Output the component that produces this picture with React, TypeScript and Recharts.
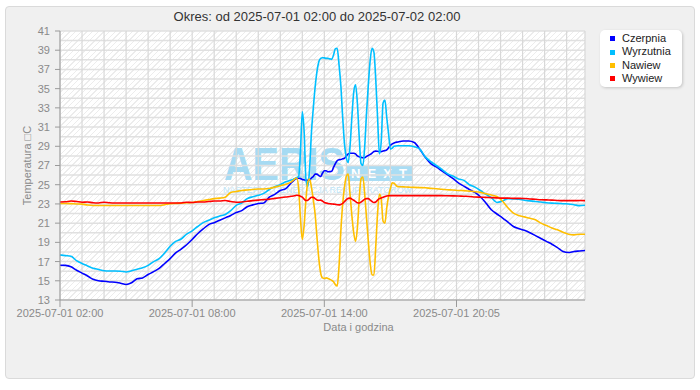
import React from 'react';
import { LineChart, Line, XAxis, YAxis, CartesianGrid, Legend } from 'recharts';

const title = 'Okres: od 2025-07-01 02:00 do 2025-07-02 02:00';
const xAxisTitle = 'Data i godzina';
const yAxisTitle = 'Temperatura \u25A1C';

// minutes since 2025-07-01 02:00
const minutes = [
  0, 15, 30, 45, 60, 75, 90, 105, 120, 135, 150, 165, 180, 195, 210, 225, 240, 255, 270, 285, 300, 315, 330, 345, 360, 375, 390, 405, 420, 435, 450, 465, 480, 495, 510, 525, 540, 555, 570, 585, 600, 615, 630,
  635, 640, 645, 650, 655, 660, 665, 670, 675, 680, 685, 690, 695, 700, 705, 710, 715, 720, 725, 730, 735, 740, 745, 750, 755, 760, 765, 770, 775, 780, 785, 790, 795, 800, 805, 810, 815, 820, 825, 830, 835, 840, 845, 850, 855, 860, 865, 870, 875, 880, 885, 890, 895, 900, 905, 910,
  920, 935, 950, 965, 980, 995, 1010, 1025, 1040, 1055, 1070, 1085, 1100, 1115, 1130, 1145, 1160, 1175, 1190, 1205, 1220, 1235, 1250, 1265, 1280, 1295, 1310, 1325, 1340, 1355, 1370, 1385, 1400, 1415, 1430,
];

const czerpnia = [
  16.62, 16.6, 16.45, 16.1, 15.8, 15.5, 15.15, 15.0, 14.95, 14.88, 14.85, 14.75, 14.62, 14.8, 15.2, 15.3, 15.65, 15.95, 16.3, 16.8, 17.3, 17.9, 18.3, 18.75, 19.3, 19.9, 20.4, 20.85, 21.05, 21.3, 21.55, 21.8, 22.1, 22.3, 22.7, 22.9, 23.05, 23.1, 23.7, 24.0, 24.4, 24.6, 25.2,
  25.38, 25.55, 25.66, 25.68, 25.65, 25.55, 25.5, 25.45, 25.47, 25.5, 25.7, 25.85, 26.1, 26.1, 25.95, 25.85, 26.2, 26.45, 26.45, 26.35, 26.36, 26.4, 26.8, 27.2, 27.5, 27.6, 27.62, 27.7, 27.75, 28.0, 28.2, 28.27, 28.28, 28.27, 28.2, 28.0, 27.9, 27.85, 27.8, 27.8, 27.95, 28.05, 28.15, 28.3, 28.45, 28.5, 28.48, 28.45, 28.44, 28.5, 28.55, 28.62, 28.85, 29.1, 29.25, 29.35,
  29.45, 29.55, 29.55, 29.4, 28.7, 27.85, 27.2, 26.85, 26.45, 26.05, 25.65, 25.2, 24.85, 24.5, 24.2, 23.75, 23.1, 22.4, 21.95, 21.55, 21.1, 20.65, 20.42, 20.25, 20.0, 19.7, 19.4, 19.1, 18.8, 18.45, 18.05, 17.95, 18.05, 18.1, 18.15,
];

const wyrzutnia = [
  17.68, 17.62, 17.55, 17.1, 16.8, 16.55, 16.3, 16.18, 16.05, 16.02, 16.02, 16.0, 15.92, 16.05, 16.2, 16.35, 16.6, 17.0, 17.3, 17.9, 18.6, 19.1, 19.35, 19.85, 20.2, 20.65, 21.05, 21.3, 21.55, 21.75, 21.9, 22.3, 22.85, 23.1, 23.55, 23.75, 23.9, 24.1, 24.5, 24.8, 25.0, 25.3, 25.5,
  25.55, 25.65, 25.75, 25.85, 28.5, 32.6, 30.5, 25.5, 24.8, 26.8, 30.5, 33.0, 35.2, 36.8, 37.8, 38.15, 38.22, 38.2, 38.15, 38.15, 38.1, 38.05, 38.5, 39.15, 39.2, 37.5, 35.3, 32.0, 29.2, 27.8, 27.3, 29.0, 32.0, 34.6, 35.4, 33.5, 30.0, 27.2, 27.0, 29.0, 32.5, 35.5, 38.0, 39.2, 38.8, 36.0, 32.0, 28.2, 29.5, 33.5, 33.8, 32.0, 30.3, 28.7, 28.8, 29.0,
  29.05, 29.06, 29.06, 28.95, 28.7, 27.9, 27.4, 27.0, 26.6, 26.15, 25.9, 25.6, 25.45, 25.0, 24.75, 24.4, 24.0, 23.65, 23.15, 23.3, 23.55, 23.52, 23.48, 23.38, 23.32, 23.25, 23.2, 23.12, 23.08, 23.06, 23.02, 23.0, 22.92, 22.82, 22.86,
];

const nawiew = [
  23.05, 23.05, 23.03, 23.0, 22.98, 22.88, 22.83, 22.83, 22.83, 22.83, 22.83, 22.83, 22.83, 22.83, 22.83, 22.83, 22.83, 22.83, 22.83, 22.92, 23.02, 23.05, 23.08, 23.12, 23.15, 23.25, 23.35, 23.45, 23.55, 23.6, 23.7, 24.2, 24.3, 24.4, 24.45, 24.5, 24.55, 24.55, 24.6, 24.75, 24.9, 25.05, 25.3,
  25.45, 25.62, 25.7, 24.6, 21.5, 19.3, 20.8, 23.5, 25.3, 25.6, 24.7, 23.4, 21.9, 19.5, 17.3, 15.8, 15.3, 15.25, 15.3, 15.25, 15.15, 15.05, 14.9, 14.6, 14.45, 16.5, 20.2, 23.0, 24.8, 25.9, 26.1, 24.0, 21.8, 20.0, 19.1, 20.5, 23.5, 25.6, 25.8, 24.0, 21.5, 19.0, 16.8, 15.6, 15.6, 18.5, 22.0, 24.0, 23.5, 21.2, 21.0, 22.6, 23.8, 24.6, 25.2, 25.15,
  24.8, 24.78, 24.75, 24.72, 24.7, 24.68, 24.62, 24.58, 24.52, 24.48, 24.45, 24.4, 24.38, 24.33, 24.28, 24.2, 24.05, 23.92, 23.78, 23.3, 22.6, 22.05, 21.8, 21.65, 21.5, 21.35, 21.0, 20.75, 20.5, 20.3, 20.05, 19.85, 19.78, 19.85, 19.85,
];

const wywiew = [
  23.2, 23.22, 23.3, 23.25, 23.18, 23.2, 23.12, 23.1, 23.18, 23.12, 23.1, 23.1, 23.1, 23.1, 23.1, 23.1, 23.1, 23.1, 23.1, 23.1, 23.1, 23.1, 23.1, 23.18, 23.15, 23.2, 23.2, 23.25, 23.3, 23.3, 23.35, 23.25, 23.18, 23.2, 23.28, 23.34, 23.4, 23.45, 23.5, 23.58, 23.65, 23.72, 23.8,
  23.82, 23.86, 23.9, 23.88, 23.8, 23.7, 23.5, 23.35, 23.38, 23.55, 23.7, 23.68, 23.55, 23.42, 23.38, 23.4, 23.3, 23.15, 23.1, 23.05, 23.02, 23.0, 22.98, 22.95, 22.92, 22.9, 22.95, 23.05, 23.25, 23.45, 23.58, 23.6, 23.5, 23.38, 23.25, 23.12, 23.1, 23.2, 23.35, 23.5, 23.55, 23.55, 23.4, 23.25, 23.15, 23.2, 23.4, 23.55, 23.62, 23.7, 23.78, 23.83, 23.85, 23.86, 23.86, 23.86,
  23.86, 23.86, 23.86, 23.86, 23.86, 23.86, 23.86, 23.86, 23.86, 23.85, 23.84, 23.82, 23.8, 23.78, 23.72, 23.7, 23.68, 23.66, 23.63, 23.6, 23.6, 23.58, 23.58, 23.56, 23.52, 23.48, 23.44, 23.42, 23.4, 23.36, 23.34, 23.34, 23.34, 23.35, 23.34,
];

const seriesNames = ['Czerpnia', 'Wyrzutnia', 'Nawiew', 'Wywiew'];
const seriesColors = ['#0000ff', '#00bfff', '#ffbf00', '#ff0000'];

const hourTicks = [0, 60, 120, 180, 240, 300, 360, 420, 480, 540, 600, 660, 720, 780, 840, 900, 960, 1020, 1080, 1140, 1200, 1260, 1320, 1380];
const labelTicks = [0, 360, 720, 1080];
const labelTickTexts = ['2025-07-01 02:00', '2025-07-01 08:00', '2025-07-01 14:00', '2025-07-01 20:05'];
const yTicks = [13, 14, 15, 16, 17, 18, 19, 20, 21, 22, 23, 24, 25, 26, 27, 28, 29, 30, 31, 32, 33, 34, 35, 36, 37, 38, 39, 40, 41];
const yLabelTicks = [13, 15, 17, 19, 21, 23, 25, 27, 29, 31, 33, 35, 37, 39, 41];

const seriesValues = [czerpnia, wyrzutnia, nawiew, wywiew];
const data = minutes.map((m, i) => {
  const row: Record<string, number> = { m };
  seriesNames.forEach((n, k) => {
    row[n] = seriesValues[k][i];
  });
  return row;
});

const FONT = '"Liberation Sans", Arial, sans-serif';
const AXIS_TEXT = '#8a8a8a';
const AXIS_LINE = '#9a9a9a';

const XTick = (props: any) => {
  const { x, y, payload } = props;
  const idx = labelTicks.indexOf(payload.value);
  if (idx < 0) return <g />;
  return (
    <g>
      <line x1={x} x2={x} y1={y - 8} y2={y - 1} stroke={AXIS_LINE} strokeWidth={1} />
      <text x={x} y={y} dy="0.85em" textAnchor="middle" fill={AXIS_TEXT} fontSize={11} fontFamily={FONT}>
        {labelTickTexts[idx]}
      </text>
    </g>
  );
};

const YTick = (props: any) => {
  const { x, y, payload } = props;
  if (!yLabelTicks.includes(payload.value)) return <g />;
  return (
    <g>
      <line x1={x + 3} x2={x + 8} y1={y} y2={y} stroke={AXIS_LINE} strokeWidth={1} />
      <text x={x - 2} y={y} dy="0.36em" textAnchor="end" fill={AXIS_TEXT} fontSize={11} fontFamily={FONT}>
        {payload.value}
      </text>
    </g>
  );
};

const XLabel = (props: any) => {
  const vb = props.viewBox || { x: 60, y: 300, width: 525, height: 30 };
  const cx = vb.x + vb.width / 2 + 36;
  return (
    <text x={cx} y={331} textAnchor="middle" fill={AXIS_TEXT} fontSize={11} fontFamily={FONT}>
      {xAxisTitle}
    </text>
  );
};

const YLabel = (props: any) => {
  const vb = props.viewBox || { x: 10, y: 31, width: 50, height: 269 };
  const cy = vb.y + vb.height / 2;
  return (
    <text x={27} y={cy} transform={`rotate(-90, 27, ${cy})`} dy="0.36em" textAnchor="middle" fill={AXIS_TEXT} fontSize={11} fontFamily={FONT}>
      {yAxisTitle}
    </text>
  );
};

const LegendContent = () => (
  <div
    style={{
      background: '#ffffff',
      borderRadius: 5,
      boxShadow: '1px 1px 3px rgba(0,0,0,0.18)',
      padding: '2px 0',
      width: 82,
      boxSizing: 'border-box',
    }}
  >
    {seriesNames.map((n, i) => (
      <div key={n} style={{ height: 13.3, lineHeight: '13.3px', position: 'relative', fontSize: 11, fontFamily: FONT, color: '#222', textAlign: 'left' }}>
        <span style={{ position: 'absolute', left: 10, top: 4.3, width: 5, height: 5, background: seriesColors[i] }} />
        <span style={{ position: 'absolute', left: 22, top: 0 }}>{n}</span>
      </div>
    ))}
  </div>
);

export default function App() {
  return (
    <div style={{ position: 'absolute', left: 0, top: 0, width: 700, height: 390, background: '#ffffff', fontFamily: FONT }}>
      <div
        style={{
          position: 'absolute', left: 5, top: 6, width: 690, height: 373,
          background: '#f0f0f0', border: '1px solid #dadada', borderRadius: 4, boxSizing: 'border-box',
        }}
      />
      <div
        style={{
          position: 'absolute', left: 60, top: 31, width: 525, height: 269,
          background: 'repeating-linear-gradient(135deg, #ffffff 0px, #ffffff 3px, #ececec 3px, #ececec 4px)',
        }}
      />
      <svg width={700} height={390} style={{ position: 'absolute', left: 0, top: 0 }}>
        <g opacity={0.95} fontFamily={FONT}>
          <text x={224} y={180} fontSize={46} fontWeight="bold" fill="#a2daf3" textLength={121} lengthAdjust="spacingAndGlyphs">AERIS</text>
          <text x={346} y={152} fontSize={6} fill="#a2daf3">®</text>
          <rect x={346} y={165} width={66} height={16} fill="#a6dcf4" />
          <text x={351} y={178} fontSize={13} fontWeight="bold" fill="#ffffff" textLength={56} lengthAdjust="spacing">NEXT</text>
          <text x={223} y={193} fontSize={8.5} fill="#bde5f7" textLength={189} lengthAdjust="spacingAndGlyphs">NASTĘPNA GENERACJA REKUPERATORÓW</text>
        </g>
      </svg>
      <div style={{ position: 'absolute', left: 0, top: 9, width: 634, textAlign: 'center', fontSize: 13, color: '#333', fontFamily: FONT, lineHeight: '15px' }}>
        {title}
      </div>
      <div style={{ position: 'absolute', left: 0, top: 0 }}>
        <LineChart width={700} height={390} data={data} margin={{ top: 31, right: 115, bottom: 60, left: 10 }}>
          <CartesianGrid vertical={false} stroke="#e0e0e0" strokeWidth={1.5} />
          <CartesianGrid horizontal={false} stroke="#d8d8d8" strokeWidth={1.2} />
          <XAxis
            dataKey="m"
            type="number"
            domain={[0, 1430]}
            ticks={hourTicks}
            interval={0}
            tickLine={false}
            axisLine={{ stroke: AXIS_LINE }}
            tick={<XTick />}
            height={30}
            label={<XLabel />}
          />
          <YAxis
            type="number"
            domain={[13, 41]}
            ticks={yTicks}
            interval={0}
            tickLine={false}
            axisLine={{ stroke: AXIS_LINE }}
            tick={<YTick />}
            width={50}
            label={<YLabel />}
          />
          <Legend
            layout="horizontal"
            verticalAlign="middle"
            align="center"
            content={<LegendContent />}
            wrapperStyle={{ position: 'absolute', left: 600, top: 30, right: 'auto', width: 82, height: 57 }}
          />
          {seriesNames.map((n, i) => (
            <Line
              key={n}
              type="monotone"
              dataKey={n}
              stroke={seriesColors[i]}
              strokeWidth={1.6}
              dot={false}
              activeDot={false}
              isAnimationActive={false}
            />
          ))}
        </LineChart>
      </div>
    </div>
  );
}
